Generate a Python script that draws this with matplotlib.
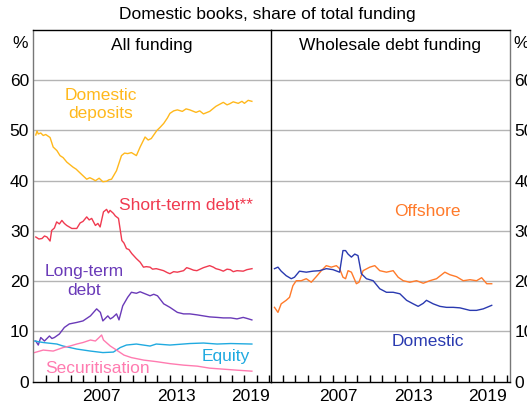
import matplotlib.pyplot as plt

plt.rcParams['font.family'] = ['Liberation Sans', 'DejaVu Sans']

# ---- All funding (left panel), % of total funding ----
DEP_YEARS = [2002.2, 2002.3, 2002.4, 2002.6, 2002.8, 2003.0, 2003.35, 2003.6, 2003.9, 2004.15,
             2004.4, 2004.7, 2004.95, 2005.2, 2005.45, 2005.7, 2006.0, 2006.3, 2006.55, 2006.8,
             2007.0, 2007.3, 2007.6, 2007.9, 2008.1, 2008.3, 2008.7, 2009.1, 2009.35, 2009.6,
             2009.9, 2010.3, 2010.6, 2011.0, 2011.25, 2011.5, 2011.95, 2012.2, 2012.5, 2012.8,
             2013.0, 2013.3, 2013.6, 2014.0, 2014.3, 2014.6, 2015.1, 2015.4, 2015.7, 2016.2,
             2016.7, 2017.0, 2017.3, 2017.6, 2017.8, 2018.1, 2018.5, 2018.8, 2019.0, 2019.3,
             2019.6]
DEPOSITS = [49.1, 49.9, 49.3, 49.5, 49.0, 49.2, 48.6, 46.7, 46.0, 45.0,
            44.6, 43.7, 43.2, 42.7, 42.3, 41.7, 41.0, 40.3, 40.6, 40.3,
            40.0, 40.5, 39.8, 39.9, 40.2, 40.3, 42.0, 45.0, 45.5, 45.4,
            45.6, 45.0, 46.7, 48.7, 48.1, 48.4, 50.0, 50.6, 51.4, 52.5,
            53.4, 53.9, 54.1, 53.8, 54.3, 54.1, 53.6, 53.9, 53.3, 53.8,
            54.8, 55.2, 55.6, 55.1, 55.3, 55.7, 55.4, 55.8, 55.4, 56.0,
            55.8]

ST_YEARS = [2002.2, 2002.45, 2002.7, 2002.9, 2003.1, 2003.35, 2003.48, 2003.7, 2003.88, 2004.1,
            2004.3, 2004.5, 2004.69, 2005.1, 2005.5, 2005.77, 2006.0, 2006.3, 2006.5, 2006.7,
            2007.0, 2007.2, 2007.38, 2007.65, 2007.9, 2008.05, 2008.18, 2008.45, 2008.6, 2008.86,
            2009.13, 2009.3, 2009.5, 2009.7, 2009.93, 2010.3, 2010.6, 2010.87, 2011.1, 2011.4,
            2011.6, 2011.9, 2012.2, 2012.49, 2012.8, 2013.0, 2013.3, 2013.6, 2014.1, 2014.35,
            2014.6, 2014.9, 2015.17, 2015.7, 2016.2, 2016.5, 2016.7, 2017.0, 2017.3, 2017.6,
            2017.86, 2018.1, 2018.4, 2018.9, 2019.2, 2019.61]
SHORT_TERM = [28.8, 28.4, 28.5, 29.0, 28.8, 28.0, 30.1, 30.6, 31.8, 31.4,
              32.1, 31.5, 31.1, 30.5, 30.5, 31.6, 31.9, 32.8, 32.2, 32.5,
              31.1, 31.5, 30.8, 33.8, 34.3, 33.6, 34.1, 33.5, 33.0, 32.5,
              28.1, 27.6, 26.5, 26.3, 25.5, 24.5, 23.8, 22.8, 22.9, 22.8,
              22.4, 22.5, 22.3, 22.1, 21.7, 21.5, 21.9, 21.8, 22.1, 22.7,
              22.5, 22.2, 22.1, 22.7, 23.1, 22.8, 22.5, 22.3, 22.0, 22.4,
              22.3, 21.9, 22.1, 22.0, 22.3, 22.5]

LT_YEARS = [2002.2, 2002.4, 2002.6, 2002.9, 2003.1, 2003.3, 2003.5, 2003.7, 2004.1, 2004.5,
            2004.9, 2005.5, 2006.0, 2006.3, 2006.6, 2007.1, 2007.4, 2007.6, 2008.0, 2008.2,
            2008.4, 2008.7, 2008.9, 2009.2, 2009.6, 2009.9, 2010.3, 2010.6, 2010.9, 2011.4,
            2011.7, 2012.0, 2012.5, 2013.0, 2013.6, 2014.1, 2014.6, 2015.2, 2015.7, 2016.2,
            2016.8, 2017.3, 2017.9, 2018.4, 2018.9, 2019.2, 2019.6]
LONG_TERM = [8.1, 7.3, 8.8, 8.1, 8.6, 9.1, 8.6, 8.8, 9.5, 10.8,
             11.5, 11.8, 12.1, 12.6, 13.1, 14.5, 13.8, 12.1, 13.1, 12.5,
             12.8, 13.5, 12.3, 15.1, 16.8, 17.8, 17.6, 17.9, 17.6, 17.1,
             17.4, 17.1, 15.5, 14.8, 13.8, 13.5, 13.5, 13.3, 13.1, 12.9,
             12.8, 12.7, 12.7, 12.5, 12.8, 12.6, 12.3]

EQ_YEARS = [2002.1, 2002.8, 2003.9, 2004.4, 2005.5, 2006.6, 2007.6, 2008.45, 2009.0,
            2009.5, 2010.3, 2011.4, 2011.9, 2013.0, 2014.6, 2015.7, 2016.8, 2017.9, 2019.6]
EQUITY = [8.1, 7.8, 7.5, 7.1, 6.5, 6.1, 5.8, 5.9, 6.8,
          7.3, 7.5, 7.1, 7.5, 7.3, 7.6, 7.7, 7.5, 7.6, 7.5]

SEC_YEARS = [2002.1, 2002.8, 2003.6, 2004.4, 2004.95, 2005.5, 2006.0, 2006.6, 2007.0,
             2007.3, 2007.5, 2007.65, 2008.2, 2008.7, 2009.3, 2009.9, 2010.9, 2011.9,
             2013.0, 2014.1, 2015.2, 2016.2, 2017.3, 2018.4, 2019.6]
SECURITISATION = [5.8, 6.3, 6.1, 6.8, 7.1, 7.5, 7.8, 8.3, 8.1,
                  8.8, 9.3, 8.3, 7.1, 6.3, 5.3, 4.8, 4.3, 4.0,
                  3.6, 3.3, 3.1, 2.7, 2.5, 2.3, 2.1]

# ---- Wholesale debt funding (right panel) ----
OFF_YEARS = [2002.32, 2002.6, 2002.86, 2003.26, 2003.53, 2003.8, 2004.07, 2004.47, 2004.88,
             2005.28, 2005.68, 2006.09, 2006.49, 2006.89, 2007.3, 2007.56, 2007.83, 2008.04,
             2008.24, 2008.51, 2008.91, 2009.12, 2009.45, 2009.99, 2010.39, 2010.79, 2011.33,
             2011.87, 2012.27, 2012.68, 2013.21, 2013.75, 2014.29, 2014.82, 2015.36, 2016.03,
             2016.43, 2016.97, 2017.51, 2018.05, 2018.58, 2018.99, 2019.4, 2019.8]
OFFSHORE = [14.8, 13.8, 15.5, 16.2, 16.8, 19.1, 20.1, 20.1, 20.5,
            19.8, 20.9, 22.1, 23.1, 22.8, 23.1, 22.5, 20.8, 20.5,
            22.1, 21.8, 19.5, 19.8, 22.1, 22.8, 23.1, 22.1, 21.8,
            22.1, 20.8, 20.1, 19.8, 20.1, 19.6, 20.1, 20.5, 21.8,
            21.3, 20.9, 20.1, 20.3, 20.1, 20.7, 19.5, 19.5]

DOM_YEARS = [2002.32, 2002.6, 2002.86, 2003.26, 2003.67, 2003.93, 2004.33, 2004.88, 2005.41,
             2005.95, 2006.49, 2007.03, 2007.56, 2007.83, 2008.04, 2008.24, 2008.51, 2008.78,
             2009.04, 2009.31, 2009.72, 2010.26, 2010.79, 2011.33, 2011.87, 2012.41, 2012.95,
             2013.48, 2013.88, 2014.29, 2014.55, 2015.09, 2015.63, 2016.16, 2016.7, 2017.24,
             2018.05, 2018.58, 2019.12, 2019.8]
DOMESTIC = [22.5, 22.8, 22.0, 21.1, 20.5, 20.8, 22.0, 21.8, 22.0,
            22.1, 22.5, 22.3, 21.8, 26.1, 26.1, 25.4, 24.8, 25.4,
            25.1, 21.5, 20.5, 20.1, 18.5, 17.8, 17.8, 17.5, 16.2,
            15.5, 15.0, 15.6, 16.2, 15.5, 15.0, 14.8, 14.8, 14.7,
            14.2, 14.2, 14.5, 15.2]

C_DEP = '#FFB81C'
C_ST = '#F03A50'
C_LT = '#6A3AB8'
C_EQ = '#20AAE0'
C_SEC = '#FF7BB0'
C_OFF = '#FF7A2A'
C_DOM = '#2A3AB0'

fig = plt.figure(figsize=(5.27, 4.09), dpi=100)
axL = fig.add_axes([0.0632, 0.0667, 0.4501, 0.86])
axR = fig.add_axes([0.5133, 0.0667, 0.4544, 0.86])

FS = 12.5
for ax, xmax in [(axL, 2021.1), (axR, 2021.27)]:
    ax.set_xlim(2002, xmax)
    ax.set_ylim(0, 70)
    for v in range(10, 70, 10):
        ax.axhline(v, color='#b4b4b4', lw=1.0, zorder=0)
    ax.set_xticks(range(2003, 2022))
    ax.set_xticks([2007.5, 2013.5, 2019.5], minor=True)
    ax.set_xticklabels([''] * len(range(2003, 2022)))
    ax.set_xticklabels(['2007', '2013', '2019'], minor=True, fontsize=FS)
    ax.tick_params(axis='x', which='major', direction='in', length=5, width=1, color='black')
    ax.tick_params(axis='x', which='minor', length=0, pad=5)
    ax.set_yticks(range(0, 70, 10))
    ax.tick_params(axis='y', length=0, labelsize=FS, pad=3)
    for s in ax.spines.values():
        s.set_linewidth(1.0)
    ax.spines['bottom'].set_color('black')
    ax.spines['top'].set_color('black')

axL.spines['left'].set_color('#777777')
axL.spines['right'].set_visible(False)
axR.patch.set_alpha(0)
axR.spines['left'].set_color('black')
axR.spines['left'].set_zorder(5)
axR.spines['right'].set_color('#777777')
axR.yaxis.tick_right()
axR.tick_params(axis='y', labelleft=False, labelright=True)

# left panel lines
axL.plot(DEP_YEARS, DEPOSITS, color=C_DEP, lw=1)
axL.plot(ST_YEARS, SHORT_TERM, color=C_ST, lw=1)
axL.plot(LT_YEARS, LONG_TERM, color=C_LT, lw=1)
axL.plot(EQ_YEARS, EQUITY, color=C_EQ, lw=1)
axL.plot(SEC_YEARS, SECURITISATION, color=C_SEC, lw=1)

axL.text(2007.46, 55.2, 'Domestic\ndeposits', color=C_DEP, fontsize=FS, ha='center', va='center', linespacing=1.3)
axL.text(2014.27, 35.0, 'Short-term debt**', color=C_ST, fontsize=FS, ha='center', va='center')
axL.text(2006.1, 20.0, 'Long-term\ndebt', color=C_LT, fontsize=FS, ha='center', va='center', linespacing=1.3)
axL.text(2017.5, 5.1, 'Equity', color=C_EQ, fontsize=FS, ha='center', va='center')
axL.text(2007.2, 2.65, 'Securitisation', color=C_SEC, fontsize=FS, ha='center', va='center')

# right panel lines
axR.plot(OFF_YEARS, OFFSHORE, color=C_OFF, lw=1)
axR.plot(DOM_YEARS, DOMESTIC, color=C_DOM, lw=1)
axR.text(2014.6, 33.8, 'Offshore', color=C_OFF, fontsize=FS, ha='center', va='center')
axR.text(2014.7, 7.95, 'Domestic', color=C_DOM, fontsize=FS, ha='center', va='center')

axL.text(0.5, 0.955, 'All funding', transform=axL.transAxes, fontsize=FS, ha='center', va='center')
axR.text(0.5, 0.955, 'Wholesale debt funding', transform=axR.transAxes, fontsize=FS, ha='center', va='center')

fig.text(20 / 527, 1 - 43 / 409, '%', fontsize=FS, ha='center', va='center')
fig.text(521 / 527, 1 - 43 / 409, '%', fontsize=FS, ha='center', va='center')
fig.text(267.5 / 527, 1 - 15 / 409, 'Domestic books, share of total funding', fontsize=12.5, ha='center', va='center')

fig.savefig('out.png', dpi=100)
